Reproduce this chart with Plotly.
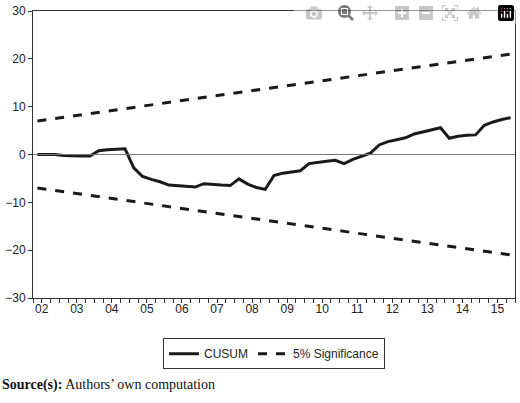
import plotly.graph_objects as go

# quarterly observations 2002Q2 .. 2015Q4
start_year, start_q = 2002, 2
cusum = [0, 0, 0, -0.2, -0.3, -0.3, -0.3, 0.8, 1.0, 1.1, 1.2, -2.8, -4.6, -5.2, -5.7,
         -6.4, -6.5, -6.7, -6.8, -6.1, -6.3, -6.4, -6.5, -5.1, -6.2, -6.9, -7.3, -4.4,
         -3.9, -3.6, -3.4, -1.9, -1.6, -1.4, -1.2, -1.9, -1.0, -0.3, 0.3, 2.0, 2.7,
         3.1, 3.5, 4.3, 4.7, 5.2, 5.6, 3.4, 3.8, 4.0, 4.1, 6.1, 6.8, 7.3, 7.7]
upper_ends = [7, 21]
lower_ends = [-7, -21]
year_labels = ["02", "03", "04", "05", "06", "07", "08", "09", "10", "11", "12", "13", "14", "15"]

x = [start_year + (start_q - 1 + k) / 4 + 0.125 for k in range(len(cusum))]
x_ends = [x[0], x[-1]]

fig = go.Figure()
fig.add_trace(go.Scatter(x=x, y=cusum, mode="lines", name="CUSUM",
                         line=dict(color="#1a1a1a", width=3)))
fig.add_trace(go.Scatter(x=x_ends, y=upper_ends, mode="lines", name="5% Significance",
                         line=dict(color="#1a1a1a", width=3, dash="dash")))
fig.add_trace(go.Scatter(x=x_ends, y=lower_ends, mode="lines", showlegend=False,
                         line=dict(color="#1a1a1a", width=3, dash="dash")))

fig.add_hline(y=0, line=dict(color="#777777", width=1))

fig.update_layout(
    width=520, height=403,
    margin=dict(l=33, r=4, t=7, b=105),
    paper_bgcolor="white", plot_bgcolor="white",
    font=dict(family="Liberation Sans, Arial", size=12, color="#222"),
    showlegend=True,
    legend=dict(orientation="h", x=0.5, xanchor="center", y=-0.14, yanchor="top",
                bordercolor="#333", borderwidth=1, font=dict(size=12),
                itemwidth=30),
    xaxis=dict(range=[2002.25, 2016.0], showgrid=False, zeroline=False,
               tickvals=[2002.5 + i for i in range(len(year_labels))], ticktext=year_labels,
               ticks="", showline=True, linecolor="#333", mirror=True,
               minor=dict(tick0=2002, dtick=0.25, ticks="outside", ticklen=4,
                          tickcolor="#333", showgrid=False)),
    yaxis=dict(range=[-30, 30], showgrid=False, zeroline=False,
               tickvals=[-30, -20, -10, 0, 10, 20, 30],
               ticktext=["−30", "−20", "−10", "0", "10", "20", "30"],
               ticks="outside", ticklen=4, tickcolor="#333",
               showline=True, linecolor="#333", mirror=True),
    annotations=[dict(xref="paper", yref="paper", x=-33 / 483, y=-0.27,
                      xanchor="left", yanchor="top", showarrow=False,
                      text="<b>Source(s):</b> Authors’ own computation",
                      font=dict(family="Liberation Serif, Times New Roman", size=14, color="#111"))],
)

fig.write_html("out.html", post_script="document.body.style.margin='0';document.body.style.overflow='hidden';")
